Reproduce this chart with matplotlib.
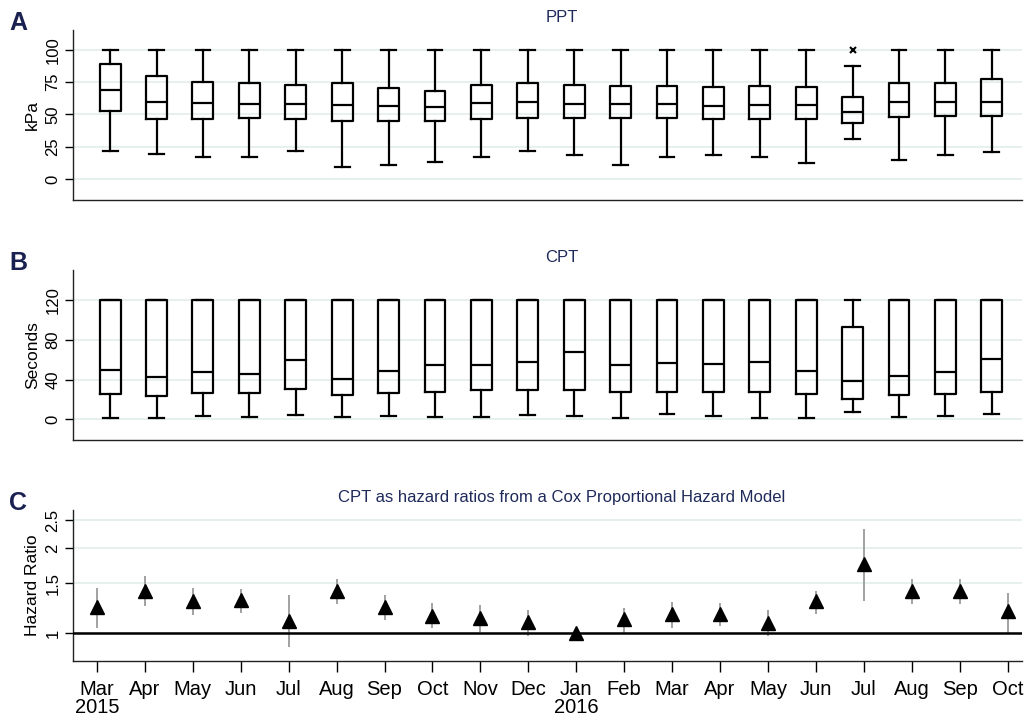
import matplotlib
matplotlib.use('Agg')
import matplotlib.pyplot as plt
import numpy as np

plt.rcParams['font.family'] = ['Liberation Sans', 'DejaVu Sans']

# months, Mar 2015 .. Oct 2016
months = ['Mar', 'Apr', 'May', 'Jun', 'Jul', 'Aug', 'Sep', 'Oct', 'Nov', 'Dec',
          'Jan', 'Feb', 'Mar', 'Apr', 'May', 'Jun', 'Jul', 'Aug', 'Sep', 'Oct']
years = {0: '2015', 10: '2016'}

# PPT (kPa) box stats
ppt_lo = [22.0, 19.4, 16.8, 16.8, 21.4, 9.6, 11.1, 13.4, 17.3, 21.7,
          18.6, 11.1, 16.8, 18.3, 17.1, 12.4, 30.7, 15.0, 18.3, 20.7]
ppt_q1 = [53.0, 46.5, 46.5, 47.0, 46.5, 45.2, 44.7, 44.7, 46.5, 47.3,
          47.3, 47.3, 47.0, 46.5, 46.8, 46.5, 43.4, 48.1, 48.6, 48.8]
ppt_med = [68.7, 59.7, 58.9, 58.1, 58.1, 57.6, 56.8, 56.1, 58.7, 59.4,
           58.4, 58.1, 57.9, 56.3, 57.4, 57.4, 51.7, 59.7, 59.9, 59.7]
ppt_q3 = [89.4, 79.8, 75.2, 74.7, 72.9, 74.4, 70.3, 68.5, 72.9, 74.4,
          72.9, 72.1, 71.8, 71.1, 71.8, 71.3, 63.3, 74.2, 74.7, 77.3]
ppt_hi = [100, 100, 100, 100, 100, 100, 100, 100, 100, 100,
          100, 100, 100, 100, 100, 100, 87.6, 100, 100, 100]
ppt_out = {16: [100]}

# CPT (seconds) box stats
cpt_lo = [1.0, 1.0, 3.4, 2.4, 4.7, 2.7, 3.7, 1.7, 2.0, 4.0,
          3.0, 1.0, 5.0, 3.7, 1.0, 1.0, 7.4, 2.0, 3.0, 5.7]
cpt_q1 = [25.2, 23.5, 26.2, 26.2, 30.9, 24.2, 26.2, 27.9, 29.9, 29.9,
          29.2, 27.9, 27.6, 27.6, 27.2, 25.2, 20.2, 24.9, 25.9, 27.9]
cpt_med = [50.1, 43.0, 47.1, 46.0, 60.2, 40.3, 48.7, 54.5, 54.8, 57.8,
           67.6, 54.8, 56.8, 56.1, 57.8, 48.7, 38.3, 43.4, 47.7, 60.8]
cpt_q3 = [120, 120, 120, 120, 120, 120, 120, 120, 120, 120,
          120, 120, 120, 120, 120, 120, 92.8, 120, 120, 120]
cpt_hi = [120, 120, 120, 120, 120, 120, 120, 120, 120, 120,
          120, 120, 120, 120, 120, 120, 120, 120, 120, 120]

# hazard ratios with 95% CI
hr = [1.244, 1.415, 1.30, 1.307, 1.11, 1.411, 1.244, 1.153, 1.134, 1.10,
      1.0, 1.122, 1.169, 1.169, 1.091, 1.296, 1.751, 1.411, 1.411, 1.198]
hr_lo = [1.045, 1.248, 1.165, 1.178, 0.894, 1.268, 1.118, 1.045, 1.016, 0.976,
         1.0, 1.005, 1.045, 1.059, 0.981, 1.169, 1.303, 1.268, 1.268, 1.0]
hr_hi = [1.45, 1.596, 1.446, 1.434, 1.362, 1.557, 1.369, 1.275, 1.258, 1.214,
         1.0, 1.234, 1.289, 1.282, 1.207, 1.415, 2.333, 1.557, 1.557, 1.392]

navy = '#1f2a5a'
grid_c = '#e2eeec'
W, H = 1025, 715


def ax_rect(left, top, right, bottom):
    return [left / W, 1 - bottom / H, (right - left) / W, (bottom - top) / H]


def style_axis(ax):
    for s in ['top', 'right']:
        ax.spines[s].set_visible(False)
    for s in ['left', 'bottom']:
        ax.spines[s].set_linewidth(1.0)
        ax.spines[s].set_color('#222222')
    ax.yaxis.grid(True, color=grid_c, lw=1.2)
    ax.set_axisbelow(True)
    ax.tick_params(axis='y', length=6, width=1, labelsize=12, pad=3)
    for lab in ax.get_yticklabels():
        lab.set_rotation(90)
        lab.set_va('center')


def box_stats(lo, q1, med, q3, hi, out=None):
    stats = []
    for i in range(len(med)):
        stats.append(dict(whislo=lo[i], q1=q1[i], med=med[i], q3=q3[i], whishi=hi[i],
                          fliers=(out or {}).get(i, [])))
    return stats


fig = plt.figure(figsize=(W / 100, H / 100), dpi=100)
pos = np.arange(1, len(months) + 1)

boxprops = dict(color='black', lw=1.6)
medprops = dict(color='black', lw=1.6)
whiskprops = dict(color='black', lw=1.6)
capprops = dict(color='black', lw=1.6)
flierprops = dict(marker='x', markersize=4, markeredgewidth=1.5, markeredgecolor='black')

# Panel A
axA = fig.add_axes(ax_rect(73, 30, 1022, 200))
axA.bxp(box_stats(ppt_lo, ppt_q1, ppt_med, ppt_q3, ppt_hi, ppt_out), positions=pos,
        widths=0.45, boxprops=boxprops, medianprops=medprops, whiskerprops=whiskprops,
        capprops=capprops, flierprops=flierprops, capwidths=0.32)
axA.set_xlim(0.2, 20.65)
axA.set_ylim(-16.3, 115.5)
axA.set_yticks([0, 25, 50, 75, 100])
axA.set_xticks([])
axA.set_ylabel('kPa', fontsize=12.5, labelpad=4)
style_axis(axA)
axA.set_title('PPT', fontsize=12, color=navy, pad=6, x=0.515)

# Panel B
axB = fig.add_axes(ax_rect(73, 270, 1022, 440))
axB.bxp(box_stats(cpt_lo, cpt_q1, cpt_med, cpt_q3, cpt_hi), positions=pos,
        widths=0.45, boxprops=boxprops, medianprops=medprops, whiskerprops=whiskprops,
        capprops=capprops, flierprops=flierprops, capwidths=0.32)
axB.set_xlim(0.2, 20.65)
axB.set_ylim(-21, 150.5)
axB.set_yticks([0, 40, 80, 120])
axB.set_xticks([])
axB.set_ylabel('Seconds', fontsize=12.5, labelpad=4)
style_axis(axB)
axB.set_title('CPT', fontsize=12, color=navy, pad=6, x=0.515)

# Panel C
axC = fig.add_axes(ax_rect(73, 510, 1022, 661))
axC.set_yscale('log')
hr_arr = np.array(hr)
yerr = np.vstack([hr_arr - np.array(hr_lo), np.array(hr_hi) - hr_arr])
axC.errorbar(pos, hr_arr, yerr=yerr, fmt='none', ecolor='#9a9a9a', elinewidth=1.3, capsize=0, zorder=2)
axC.axhline(1, color='black', lw=1.8, zorder=3)
axC.plot(pos, hr_arr, linestyle='none', marker='^', markersize=10, color='black', zorder=4)
axC.set_xlim(0.5, 20.3)
axC.set_ylim(0.8, 2.72)
axC.set_yticks([1, 1.5, 2, 2.5])
axC.set_yticklabels(['1', '1.5', '2', '2.5'])
axC.yaxis.set_minor_locator(matplotlib.ticker.NullLocator())
axC.set_xticks(pos)
axC.set_xticklabels([m + ('\n' + years[i] if i in years else '') for i, m in enumerate(months)],
                    fontsize=14.5, linespacing=0.9, va='top')
axC.tick_params(axis='x', length=8, width=1, pad=6)
axC.set_ylabel('Hazard Ratio', fontsize=12.5, labelpad=4)
style_axis(axC)
axC.set_title('CPT as hazard ratios from a Cox Proportional Hazard Model', fontsize=12,
              color=navy, pad=6, x=0.515)

# panel letters
for lab, ytop in [('A', 11), ('B', 251), ('C', 491)]:
    fig.text(9 / W, 1 - ytop / H, lab, fontsize=18, fontweight='bold', color='#1a2150',
             ha='left', va='top')

fig.savefig('out.png', dpi=100)
